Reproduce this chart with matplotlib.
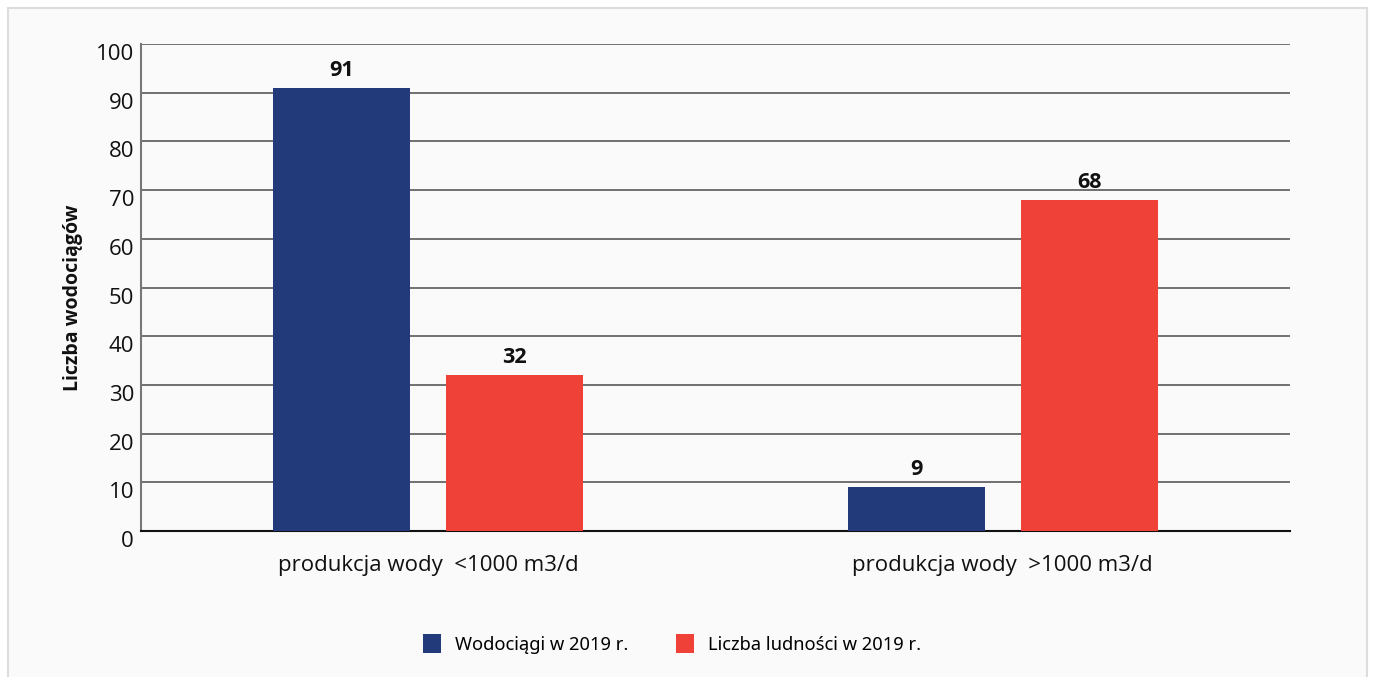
import matplotlib
matplotlib.use("Agg")
import matplotlib.pyplot as plt
import matplotlib.transforms as mtransforms
from matplotlib.patches import Rectangle, Patch
import numpy as np

categories = ["produkcja wody  <1000 m3/d", "produkcja wody  >1000 m3/d"]
series_names = ["Wodociągi w 2019 r.", "Liczba ludności w 2019 r."]
wodociagi = [91, 9]
ludnosc = [32, 68]
yticks = [0, 10, 20, 30, 40, 50, 60, 70, 80, 90, 100]
ylabel = "Liczba wodociągów"

blue = "#233a7a"
red = "#ef4137"
bg = "#fafafa"

W, H = 1373, 677
fig = plt.figure(figsize=(W / 100, H / 100), dpi=100, facecolor="white")
# outer card
card = Rectangle((8 / W, -0.05), (1367 - 8) / W, 1.05 - 8 / H,
                 transform=fig.transFigure, facecolor=bg,
                 edgecolor="#dddddd", linewidth=1.5, zorder=-10)
fig.patches.append(card)

ax = fig.add_axes([141 / W, 1 - 531 / H, (1290 - 141) / W, (531 - 44) / H])
ax.set_zorder(1)
ax.patch.set_alpha(0)

x = np.arange(len(categories))
bw = 0.2387
off = 0.1505
b1 = ax.bar(x - off, wodociagi, width=bw, color=blue, zorder=3)
b2 = ax.bar(x + off, ludnosc, width=bw, color=red, zorder=3)

for bars, vals in ((b1, wodociagi), (b2, ludnosc)):
    for r, v in zip(bars, vals):
        ax.annotate(str(v), (r.get_x() + r.get_width() / 2, v),
                    xytext=(0, 5), textcoords="offset points",
                    ha="center", va="bottom", fontsize=15.5, fontweight="bold",
                    family="Open Sans", color="#111111")

ax.set_xlim(-0.5, 1.5)
ax.set_ylim(0, 100)
ax.set_yticks(yticks)
ax.set_yticklabels([str(t) for t in yticks], fontsize=16, family="Open Sans", color="#111111")
ax.set_xticks(x)
ax.set_xticklabels(categories, fontsize=16, family="Open Sans", color="#111111")
ax.tick_params(axis="both", length=0)
ax.tick_params(axis="x", pad=17)
ax.tick_params(axis="y", pad=5)
offset = mtransforms.ScaledTranslation(0, -8 / 100, fig.dpi_scale_trans)
for lab in ax.get_yticklabels():
    lab.set_transform(lab.get_transform() + offset)

ax.yaxis.grid(True, color="#4a4a4a", linewidth=1.1, zorder=0)
ax.set_axisbelow(True)
for s in ("top", "right"):
    ax.spines[s].set_visible(False)
ax.spines["left"].set_color("#777777")
ax.spines["left"].set_linewidth(1.5)
ax.spines["bottom"].set_color("#111111")
ax.spines["bottom"].set_linewidth(1.5)

fig.text(73 / W, 1 - 298 / H, ylabel, rotation=90, ha="center", va="center",
         fontsize=14, fontweight="bold", family="Open Sans", color="#111111")

handles = [Patch(facecolor=blue, label=series_names[0]),
           Patch(facecolor=red, label=series_names[1])]
leg = fig.legend(handles=handles, loc="center", bbox_to_anchor=(672 / W, 1 - 644 / H),
                 ncol=2, frameon=False, prop={"family": "Noto Sans", "size": 13.2},
                 handlelength=1.0, handleheight=1.25, handletextpad=0.75, columnspacing=2.6)

fig.savefig("out.png", dpi=100, facecolor="white")
